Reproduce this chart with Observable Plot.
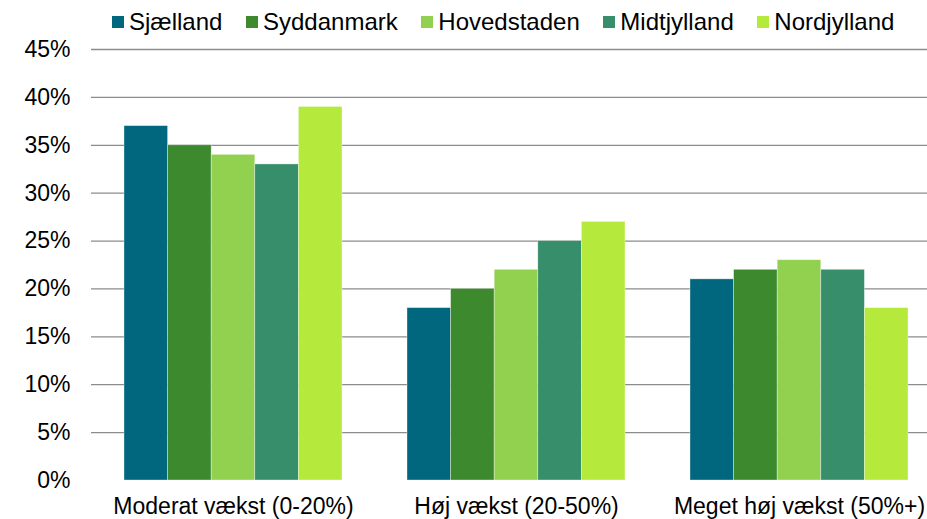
<!DOCTYPE html>
<html>
<head>
<meta charset="utf-8">
<script src="https://cdn.jsdelivr.net/npm/d3@7"></script>
<script src="https://cdn.jsdelivr.net/npm/@observablehq/plot@0.6"></script>
<style>
  html, body { margin: 0; padding: 0; background: #fff; }
  #wrap { position: relative; width: 927px; height: 519px; font-family: "Liberation Sans", Arial, sans-serif; color: #000; }
  #legend { position: absolute; top: 8px; left: 112px; display: flex; align-items: center; font-size: 24px; line-height: 27px; white-space: nowrap; }
  #legend .item { display: flex; align-items: center; margin-right: 23.6px; }
  #legend .sw { width: 12px; height: 12px; margin-right: 5px; }
  #chart { position: absolute; top: 0; left: 0; }
</style>
</head>
<body>
<div id="wrap">
  <div id="chart"></div>
  <div id="legend"></div>
</div>
<script>
const groups = ["Moderat vækst (0-20%)", "Høj vækst (20-50%)", "Meget høj vækst (50%+)"];
const regions = ["Sjælland", "Syddanmark", "Hovedstaden", "Midtjylland", "Nordjylland"];
const colors = ["#00677f", "#3d8a2e", "#92d050", "#368e6a", "#b5ea3d"];
const sjaelland = [37, 18, 21];
const syddanmark = [35, 20, 22];
const hovedstaden = [34, 22, 23];
const midtjylland = [33, 25, 22];
const nordjylland = [39, 27, 18];
const yTicks = [0, 5, 10, 15, 20, 25, 30, 35, 40, 45];

const seriesValues = [sjaelland, syddanmark, hovedstaden, midtjylland, nordjylland];
const rows = regions.flatMap((r, i) => groups.map((g, j) => ({group: g, region: r, value: seriesValues[i][j]})));

const xStart = 91, xEnd = 941.5, pad = 0.231;
const step = (xEnd - xStart) / 3;
const bw = step * (1 - pad);
const sub = bw / regions.length;

const chart = Plot.plot({
  width: 927,
  height: 519,
  marginTop: 49,
  marginBottom: 39,
  marginLeft: 91,
  marginRight: 0,
  style: {fontFamily: "Liberation Sans, Arial, sans-serif", fontSize: "23px", color: "#000", background: "transparent", overflow: "visible"},
  x: {domain: groups, range: [xStart, xEnd], paddingInner: pad, paddingOuter: pad / 2, tickSize: 0, tickPadding: 17, label: null},
  y: {domain: [0, 45], ticks: yTicks, tickFormat: d => d + "%", tickSize: 0, tickPadding: 21, label: null},
  color: {domain: regions, range: colors},
  marks: [
    Plot.ruleY(yTicks.filter(t => t > 0), {stroke: "#8c8c8c", strokeWidth: 1.3}),
    ...regions.map((r, i) => Plot.barY(rows.filter(d => d.region === r), {
      x: "group", y: "value", fill: "region",
      insetLeft: i * sub, insetRight: (regions.length - 1 - i) * sub,
      stroke: "#fff", strokeOpacity: 0.5, strokeWidth: 0.7
    }))
  ]
});
document.getElementById("chart").appendChild(chart);

const legend = document.getElementById("legend");
regions.forEach((r, i) => {
  const item = document.createElement("div");
  item.className = "item";
  const sw = document.createElement("div");
  sw.className = "sw";
  sw.style.background = colors[i];
  const label = document.createElement("span");
  label.textContent = r;
  item.appendChild(sw);
  item.appendChild(label);
  legend.appendChild(item);
});
</script>
</body>
</html>
